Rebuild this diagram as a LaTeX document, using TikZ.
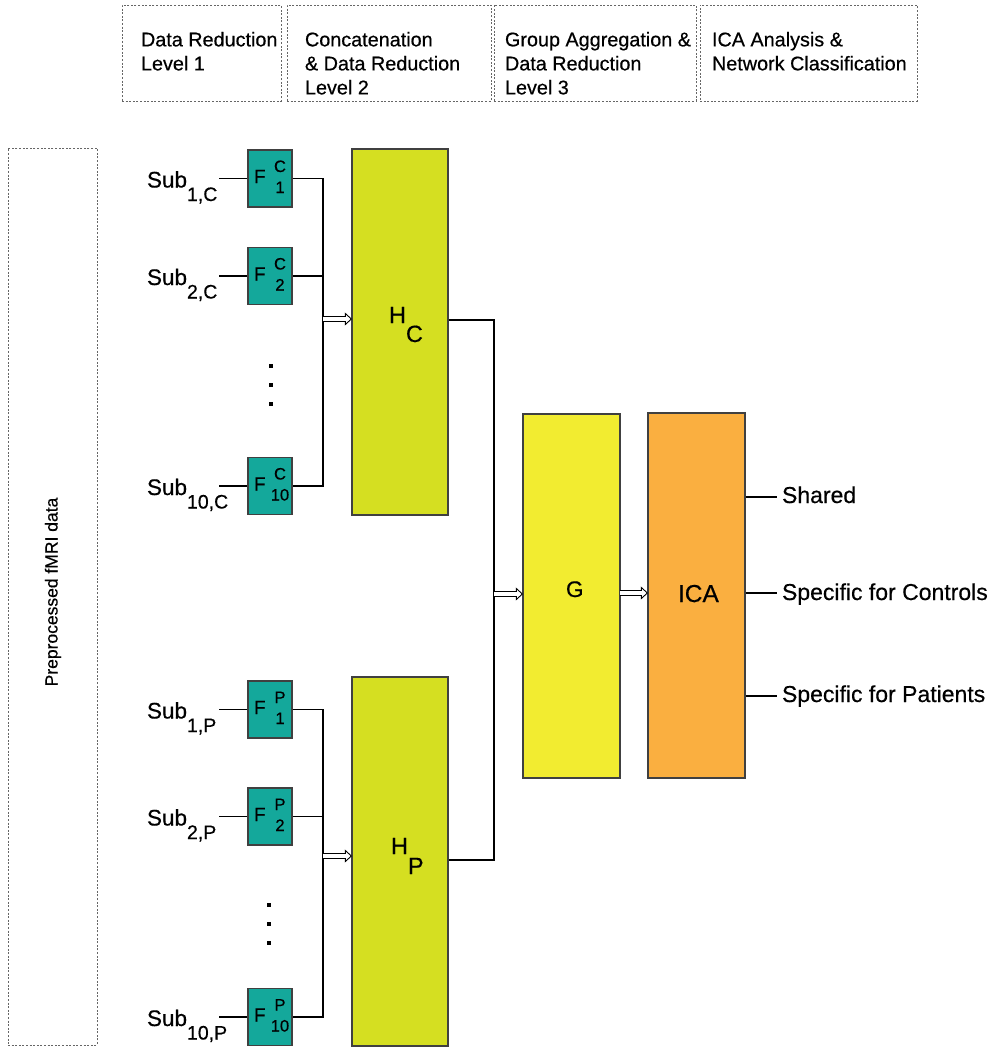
\documentclass[tikz,border=0pt]{standalone}
\usepackage{fontspec}
\setmainfont{Liberation Sans}[FakeBold=0.5]
\usetikzlibrary{calc}
\definecolor{fteal}{RGB}{20,168,155}
\definecolor{hgreen}{RGB}{213,223,33}
\definecolor{gyellow}{RGB}{242,236,48}
\definecolor{icaorange}{RGB}{250,175,64}
\newcommand{\Row}[4]{%
  \node[fbx] (#1) at (270,#2) {};
  \node[txt,font=\fontsize{19}{19}\selectfont,anchor=base west] (#1F) at (254,#2+4.5) {F};
  \node[txt,font=\fontsize{16.5}{16.5}\selectfont,anchor=base] (#1u) at (280,#2-6.5) {#4};
  \node[txt,font=\fontsize{16.5}{16.5}\selectfont,anchor=base] (#1d) at (280,#2+14.5) {#3};
  \node[txt,font=\fontsize{22.5}{22.5}\selectfont,anchor=base west] (#1s) at (147,#2+9) {Sub\raisebox{-13.5pt}{\fontsize{19.5}{19.5}\selectfont #3,#4}};
  \coordinate (#1a) at (219,#2);
  \draw[wire] (#1a) -- (#1);
}
\begin{document}
\begin{tikzpicture}[x=1pt,y=-1pt,
  txt/.style={inner sep=0pt, outer sep=0pt, text=black},
  dbox/.style={draw=black!60, line width=0.8pt, dash pattern=on 2pt off 1.6pt, inner sep=0pt},
  fbx/.style={draw=black!75, fill=fteal, line width=1.1pt, minimum width=44pt, minimum height=57pt, inner sep=0pt},
  bigbox/.style={draw=black!75, line width=1.3pt, inner sep=0pt},
  wire/.style={draw=black, line width=1.2pt},
  dblarrow/.style={draw=black, fill=white, line width=0.9pt, line join=miter,
    to path={let \p1=(\tikztostart), \p2=(\tikztotarget) in
      (\x1,\y1+2.5pt) -- (\x2-6pt,\y1+2.5pt) -- (\x2-6pt,\y1+5.5pt) -- (\x2,\y1)
      -- (\x2-6pt,\y1-5.5pt) -- (\x2-6pt,\y1-2.5pt) -- (\x1,\y1-2.5pt)}},
  toptxt/.style={txt, anchor=north west, align=left, font=\fontsize{19.8}{24}\selectfont},
  outtxt/.style={txt, anchor=base west, font=\fontsize{23}{23}\selectfont}
]
\useasboundingbox (0,0) rectangle (992,1054);

% top header boxes
\node[dbox, minimum width=159pt, minimum height=96pt] (b1) at (201.5,53) {};
\node[dbox, minimum width=204pt, minimum height=96pt] (b2) at (389,53) {};
\node[dbox, minimum width=202pt, minimum height=96pt] (b3) at (595,53) {};
\node[dbox, minimum width=217pt, minimum height=96pt] (b4) at (808.5,53) {};
\node[toptxt] (t1) at (141,32) {Data Reduction\\Level 1};
\node[toptxt] (t2) at (305,32) {Concatenation\\\& Data Reduction\\Level 2};
\node[toptxt] (t3) at (505,32) {Group Aggregation \&\\Data Reduction\\Level 3};
\node[toptxt] (t4) at (712,32) {ICA Analysis \&\\Network Classification};

% left box
\node[dbox, minimum width=89pt, minimum height=897pt] (lb) at (52.5,596.5) {};
\node[txt, rotate=90, font=\fontsize{17.5}{17.5}\selectfont] (lt) at (53,592) {Preprocessed fMRI data};

% F blocks
\Row{c1}{178.5}{1}{C}
\Row{c2}{276}{2}{C}
\Row{c10}{486}{10}{C}
\Row{p1}{709.5}{1}{P}
\Row{p2}{816.5}{2}{P}
\Row{p10}{1017}{10}{P}

% dots
\foreach \yy in {366,385,404} \fill[black] (269.2,\yy-1.8) rectangle ++(3.6,3.6);
\foreach \yy in {905,924,943} \fill[black] (267.2,\yy-1.8) rectangle ++(3.6,3.6);

% H boxes
\node[bigbox, fill=hgreen, minimum width=96pt, minimum height=366pt] (hc) at (400,332) {};
\node[bigbox, fill=hgreen, minimum width=96pt, minimum height=369pt] (hp) at (400,861.5) {};
\node[txt, anchor=base west, font=\fontsize{23.5}{23.5}\selectfont] (hcl) at (389,323) {H\raisebox{-19pt}{C}};
\node[txt, anchor=base west, font=\fontsize{23.5}{23.5}\selectfont] (hpl) at (391,854) {H\raisebox{-20pt}{P}};

% G and ICA
\node[bigbox, fill=gyellow, minimum width=97pt, minimum height=364pt] (g) at (571.5,596) {};
\node[bigbox, fill=icaorange, minimum width=97pt, minimum height=365pt] (ica) at (696.5,595.5) {};
\node[txt, anchor=base west, font=\fontsize{22.5}{22.5}\selectfont] (gl) at (566,597) {G};
\node[txt, anchor=base west, font=\fontsize{24.5}{24.5}\selectfont] (ical) at (678,602) {ICA};

% buses to H boxes
\coordinate (bc1) at (323,178.5);
\coordinate (bc10) at (323,486);
\draw[wire] (c1.east) -- (bc1) -- (bc10) -- (c10.east);
\draw[wire] (c2.east) -- (c2.east -| bc1);
\coordinate (ac) at (323,319);
\draw[dblarrow] (ac) to (ac -| hc.west);

\coordinate (bp1) at (323,709.5);
\coordinate (bp10) at (323,1017);
\draw[wire] (p1.east) -- (bp1) -- (bp10) -- (p10.east);
\draw[wire] (p2.east) -- (p2.east -| bp1);
\coordinate (ap) at (323,856);
\draw[dblarrow] (ap) to (ap -| hp.west);

% bus from H boxes to G
\coordinate (bh1) at (494,320);
\coordinate (bh2) at (494,860);
\draw[wire] (hc.east |- bh1) -- (bh1) -- (bh2) -- (hp.east |- bh2);
\coordinate (ag) at (494,594);
\draw[dblarrow] (ag) to (ag -| g.west);
\coordinate (gi) at (620,593);
\draw[dblarrow] (gi) to (gi -| ica.west);

% outputs
\coordinate (o1) at (777,497);
\coordinate (o2) at (777,593);
\coordinate (o3) at (777,696);
\draw[wire] (ica.east |- o1) -- (o1);
\draw[wire] (ica.east |- o2) -- (o2);
\draw[wire] (ica.east |- o3) -- (o3);
\node[outtxt] (s1) at (782,503) {Shared};
\node[outtxt] (s2) at (782,600) {Specific for Controls};
\node[outtxt] (s3) at (782,702) {Specific for Patients};
\end{tikzpicture}
\end{document}
